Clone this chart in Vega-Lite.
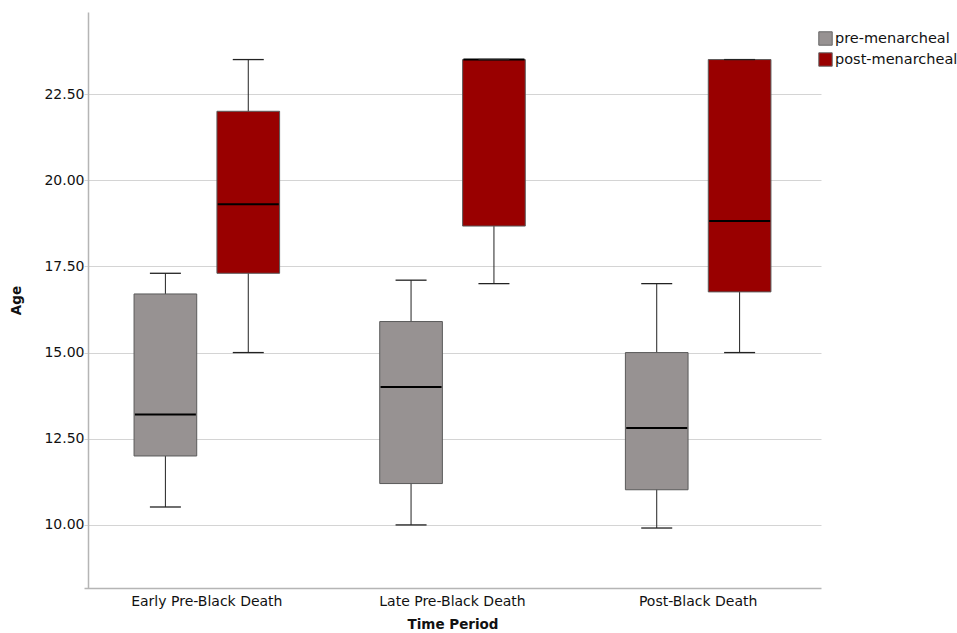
{
  "$schema": "https://vega.github.io/schema/vega-lite/v6.json",
  "autosize": "none",
  "width": 729,
  "height": 576,
  "padding": {"left": 88, "top": 12, "right": 140, "bottom": 45},
  "background": "white",
  "config": {
    "font": "DejaVu Sans",
    "view": {"stroke": null},
    "axis": {"labelFont": "DejaVu Sans", "titleFont": "DejaVu Sans", "labelColor": "#111", "titleColor": "#111"}
  },
  "data": {
    "values": [
      {"period": "Early Pre-Black Death", "group": "pre-menarcheal", "lo": 10.52, "q1": 12.0, "med": 13.2, "q3": 16.7, "hi": 17.3},
      {"period": "Early Pre-Black Death", "group": "post-menarcheal", "lo": 15.0, "q1": 17.3, "med": 19.3, "q3": 22.0, "hi": 23.5},
      {"period": "Late Pre-Black Death", "group": "pre-menarcheal", "lo": 10.0, "q1": 11.2, "med": 14.0, "q3": 15.9, "hi": 17.1},
      {"period": "Late Pre-Black Death", "group": "post-menarcheal", "lo": 17.0, "q1": 18.67, "med": 23.5, "q3": 23.5, "hi": 23.5},
      {"period": "Post-Black Death", "group": "pre-menarcheal", "lo": 9.91, "q1": 11.02, "med": 12.81, "q3": 15.0, "hi": 17.0},
      {"period": "Post-Black Death", "group": "post-menarcheal", "lo": 15.0, "q1": 16.76, "med": 18.82, "q3": 23.5, "hi": 23.5}
    ]
  },
  "encoding": {
    "x": {
      "field": "period", "type": "nominal",
      "sort": ["Early Pre-Black Death", "Late Pre-Black Death", "Post-Black Death"],
      "scale": {"paddingInner": 0, "paddingOuter": 0, "range": [-4, 733]},
      "axis": {"title": "Time Period", "titleFontSize": 13.5, "titleFontWeight": "bold", "titlePadding": 9, "labelAngle": 0, "labelFontSize": 14, "labelPadding": 6, "ticks": false, "domainColor": "#b5b5b5", "domainWidth": 1.5, "grid": false}
    },
    "xOffset": {
      "field": "group", "type": "nominal",
      "sort": ["pre-menarcheal", "post-menarcheal"],
      "scale": {"paddingInner": 0.244, "paddingOuter": 0.604}
    }
  },
  "layer": [
    {
      "mark": {"type": "rule", "color": "#222", "strokeWidth": 1},
      "encoding": {
        "y": {
          "field": "lo", "type": "quantitative",
          "scale": {"domain": [8.17, 24.88], "nice": false, "zero": false},
          "axis": {"title": "Age", "titleFontSize": 13.5, "titleFontWeight": "bold", "titlePadding": 20, "values": [10, 12.5, 15, 17.5, 20, 22.5], "format": ".2f", "labelFontSize": 14, "labelPadding": 4, "ticks": false, "domainColor": "#b5b5b5", "domainWidth": 1.5, "gridColor": "#d4d4d4", "gridWidth": 1}
        },
        "y2": {"field": "hi"}
      }
    },
    {
      "mark": {"type": "bar", "stroke": "#5a5a5a", "strokeWidth": 1},
      "encoding": {
        "y": {"field": "q1", "type": "quantitative"},
        "y2": {"field": "q3"},
        "color": {
          "field": "group", "type": "nominal",
          "sort": ["pre-menarcheal", "post-menarcheal"],
          "scale": {"domain": ["pre-menarcheal", "post-menarcheal"], "range": ["#979292", "#990000"]},
          "legend": {"title": null, "orient": "none", "legendX": 730, "legendY": 19, "symbolType": "square", "symbolSize": 180, "symbolStrokeColor": "#666", "symbolStrokeWidth": 1, "symbolOpacity": 1, "labelFontSize": 14.5, "labelColor": "#111", "rowPadding": 2, "labelOffset": 2}
        }
      }
    },
    {
      "mark": {"type": "tick", "color": "#000", "thickness": 2, "size": 61, "opacity": 1},
      "encoding": {"y": {"field": "med", "type": "quantitative"}}
    },
    {
      "mark": {"type": "tick", "color": "#222", "thickness": 1.3, "size": 31, "opacity": 1},
      "encoding": {"y": {"field": "lo", "type": "quantitative"}}
    },
    {
      "mark": {"type": "tick", "color": "#222", "thickness": 1.3, "size": 31, "opacity": 1},
      "encoding": {"y": {"field": "hi", "type": "quantitative"}}
    }
  ]
}
